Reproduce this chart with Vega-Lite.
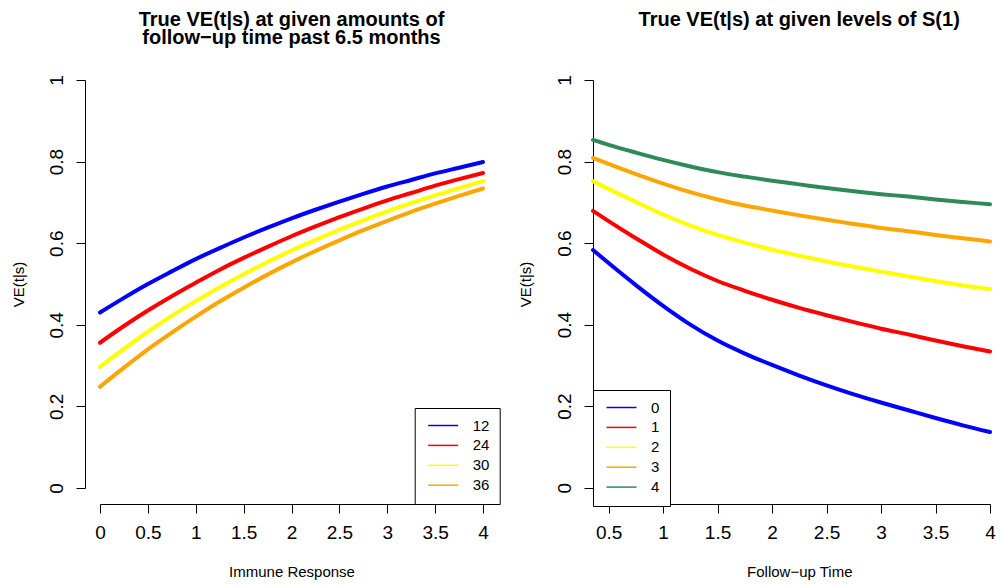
{
  "$schema": "https://vega.github.io/schema/vega-lite/v6.json",
  "background": "white",
  "padding": {"left": 11, "top": 9, "right": 5, "bottom": 5},
  "bounds": "flush",
  "spacing": 110,
  "resolve": {"scale": {"color": "independent", "x": "independent", "y": "independent"}, "legend": {"color": "independent"}},
  "config": {
    "font": "Liberation Sans",
    "view": {"stroke": null},
    "axis": {
      "grid": false,
      "domainColor": "black",
      "tickColor": "black",
      "labelColor": "black",
      "titleColor": "black",
      "labelFont": "Liberation Sans",
      "titleFont": "Liberation Sans",
      "labelFontSize": 19,
      "titleFontSize": 15,
      "titleFontWeight": "normal",
      "tickSize": 9,
      "labelFlush": false,
      "labelOverlap": false
    },
    "title": {"font": "Liberation Sans", "fontSize": 20, "fontWeight": "bold", "color": "black", "lineHeight": 18.5},
    "legend": {
      "strokeColor": "black",
      "fillColor": "white",
      "padding": 10,
      "symbolType": "M-0.8,0L5.2,0",
      "symbolSize": 100,
      "symbolStrokeWidth": 1.5,
      "labelFontSize": 15,
      "labelFont": "Liberation Sans",
      "labelColor": "black",
      "labelOffset": 33,
      "rowPadding": 3.9,
      "cornerRadius": 0
    }
  },
  "datasets": {
    "left": [
      {"s": 0, "ve": 0.430, "t": "12"}, {"s": 0.25, "ve": 0.466, "t": "12"}, {"s": 0.5, "ve": 0.500, "t": "12"}, {"s": 0.75, "ve": 0.531, "t": "12"},
      {"s": 1, "ve": 0.561, "t": "12"}, {"s": 1.25, "ve": 0.588, "t": "12"}, {"s": 1.5, "ve": 0.614, "t": "12"}, {"s": 1.75, "ve": 0.638, "t": "12"},
      {"s": 2, "ve": 0.661, "t": "12"}, {"s": 2.25, "ve": 0.682, "t": "12"}, {"s": 2.5, "ve": 0.702, "t": "12"}, {"s": 2.75, "ve": 0.721, "t": "12"},
      {"s": 3, "ve": 0.739, "t": "12"}, {"s": 3.25, "ve": 0.755, "t": "12"}, {"s": 3.5, "ve": 0.771, "t": "12"}, {"s": 3.75, "ve": 0.785, "t": "12"},
      {"s": 4, "ve": 0.799, "t": "12"},
      {"s": 0, "ve": 0.356, "t": "24"}, {"s": 0.25, "ve": 0.397, "t": "24"}, {"s": 0.5, "ve": 0.435, "t": "24"}, {"s": 0.75, "ve": 0.470, "t": "24"},
      {"s": 1, "ve": 0.503, "t": "24"}, {"s": 1.25, "ve": 0.535, "t": "24"}, {"s": 1.5, "ve": 0.564, "t": "24"}, {"s": 1.75, "ve": 0.591, "t": "24"},
      {"s": 2, "ve": 0.617, "t": "24"}, {"s": 2.25, "ve": 0.641, "t": "24"}, {"s": 2.5, "ve": 0.664, "t": "24"}, {"s": 2.75, "ve": 0.685, "t": "24"},
      {"s": 3, "ve": 0.705, "t": "24"}, {"s": 3.25, "ve": 0.723, "t": "24"}, {"s": 3.5, "ve": 0.741, "t": "24"}, {"s": 3.75, "ve": 0.757, "t": "24"},
      {"s": 4, "ve": 0.772, "t": "24"},
      {"s": 0, "ve": 0.297, "t": "30"}, {"s": 0.25, "ve": 0.341, "t": "30"}, {"s": 0.5, "ve": 0.383, "t": "30"}, {"s": 0.75, "ve": 0.422, "t": "30"},
      {"s": 1, "ve": 0.458, "t": "30"}, {"s": 1.25, "ve": 0.492, "t": "30"}, {"s": 1.5, "ve": 0.524, "t": "30"}, {"s": 1.75, "ve": 0.554, "t": "30"},
      {"s": 2, "ve": 0.582, "t": "30"}, {"s": 2.25, "ve": 0.608, "t": "30"}, {"s": 2.5, "ve": 0.633, "t": "30"}, {"s": 2.75, "ve": 0.656, "t": "30"},
      {"s": 3, "ve": 0.678, "t": "30"}, {"s": 3.25, "ve": 0.698, "t": "30"}, {"s": 3.5, "ve": 0.717, "t": "30"}, {"s": 3.75, "ve": 0.735, "t": "30"},
      {"s": 4, "ve": 0.752, "t": "30"},
      {"s": 0, "ve": 0.248, "t": "36"}, {"s": 0.25, "ve": 0.295, "t": "36"}, {"s": 0.5, "ve": 0.340, "t": "36"}, {"s": 0.75, "ve": 0.381, "t": "36"},
      {"s": 1, "ve": 0.420, "t": "36"}, {"s": 1.25, "ve": 0.457, "t": "36"}, {"s": 1.5, "ve": 0.491, "t": "36"}, {"s": 1.75, "ve": 0.523, "t": "36"},
      {"s": 2, "ve": 0.553, "t": "36"}, {"s": 2.25, "ve": 0.581, "t": "36"}, {"s": 2.5, "ve": 0.607, "t": "36"}, {"s": 2.75, "ve": 0.632, "t": "36"},
      {"s": 3, "ve": 0.655, "t": "36"}, {"s": 3.25, "ve": 0.677, "t": "36"}, {"s": 3.5, "ve": 0.697, "t": "36"}, {"s": 3.75, "ve": 0.716, "t": "36"},
      {"s": 4, "ve": 0.734, "t": "36"}
    ],
    "right": [
      {"time": 0.357, "ve": 0.583, "S": "0"}, {"time": 0.5, "ve": 0.551, "S": "0"}, {"time": 0.75, "ve": 0.497, "S": "0"}, {"time": 1, "ve": 0.446, "S": "0"},
      {"time": 1.25, "ve": 0.400, "S": "0"}, {"time": 1.5, "ve": 0.361, "S": "0"}, {"time": 1.75, "ve": 0.329, "S": "0"}, {"time": 2, "ve": 0.301, "S": "0"},
      {"time": 2.25, "ve": 0.275, "S": "0"}, {"time": 2.5, "ve": 0.251, "S": "0"}, {"time": 2.75, "ve": 0.229, "S": "0"}, {"time": 3, "ve": 0.209, "S": "0"},
      {"time": 3.25, "ve": 0.190, "S": "0"}, {"time": 3.5, "ve": 0.171, "S": "0"}, {"time": 3.75, "ve": 0.153, "S": "0"}, {"time": 4, "ve": 0.1365, "S": "0"},
      {"time": 0.357, "ve": 0.679, "S": "1"}, {"time": 0.5, "ve": 0.654, "S": "1"}, {"time": 0.75, "ve": 0.612, "S": "1"}, {"time": 1, "ve": 0.572, "S": "1"},
      {"time": 1.25, "ve": 0.537, "S": "1"}, {"time": 1.5, "ve": 0.507, "S": "1"}, {"time": 1.75, "ve": 0.483, "S": "1"}, {"time": 2, "ve": 0.461, "S": "1"},
      {"time": 2.25, "ve": 0.441, "S": "1"}, {"time": 2.5, "ve": 0.423, "S": "1"}, {"time": 2.75, "ve": 0.406, "S": "1"}, {"time": 3, "ve": 0.390, "S": "1"},
      {"time": 3.25, "ve": 0.376, "S": "1"}, {"time": 3.5, "ve": 0.361, "S": "1"}, {"time": 3.75, "ve": 0.347, "S": "1"}, {"time": 4, "ve": 0.334, "S": "1"},
      {"time": 0.357, "ve": 0.752, "S": "2"}, {"time": 0.5, "ve": 0.733, "S": "2"}, {"time": 0.75, "ve": 0.701, "S": "2"}, {"time": 1, "ve": 0.670, "S": "2"},
      {"time": 1.25, "ve": 0.643, "S": "2"}, {"time": 1.5, "ve": 0.620, "S": "2"}, {"time": 1.75, "ve": 0.601, "S": "2"}, {"time": 2, "ve": 0.584, "S": "2"},
      {"time": 2.25, "ve": 0.569, "S": "2"}, {"time": 2.5, "ve": 0.555, "S": "2"}, {"time": 2.75, "ve": 0.542, "S": "2"}, {"time": 3, "ve": 0.530, "S": "2"},
      {"time": 3.25, "ve": 0.518, "S": "2"}, {"time": 3.5, "ve": 0.507, "S": "2"}, {"time": 3.75, "ve": 0.496, "S": "2"}, {"time": 4, "ve": 0.487, "S": "2"},
      {"time": 0.357, "ve": 0.809, "S": "3"}, {"time": 0.5, "ve": 0.794, "S": "3"}, {"time": 0.75, "ve": 0.769, "S": "3"}, {"time": 1, "ve": 0.746, "S": "3"},
      {"time": 1.25, "ve": 0.725, "S": "3"}, {"time": 1.5, "ve": 0.707, "S": "3"}, {"time": 1.75, "ve": 0.692, "S": "3"}, {"time": 2, "ve": 0.680, "S": "3"},
      {"time": 2.25, "ve": 0.668, "S": "3"}, {"time": 2.5, "ve": 0.657, "S": "3"}, {"time": 2.75, "ve": 0.647, "S": "3"}, {"time": 3, "ve": 0.637, "S": "3"},
      {"time": 3.25, "ve": 0.629, "S": "3"}, {"time": 3.5, "ve": 0.620, "S": "3"}, {"time": 3.75, "ve": 0.612, "S": "3"}, {"time": 4, "ve": 0.604, "S": "3"},
      {"time": 0.357, "ve": 0.853, "S": "4"}, {"time": 0.5, "ve": 0.841, "S": "4"}, {"time": 0.75, "ve": 0.822, "S": "4"}, {"time": 1, "ve": 0.804, "S": "4"},
      {"time": 1.25, "ve": 0.788, "S": "4"}, {"time": 1.5, "ve": 0.774, "S": "4"}, {"time": 1.75, "ve": 0.763, "S": "4"}, {"time": 2, "ve": 0.753, "S": "4"},
      {"time": 2.25, "ve": 0.744, "S": "4"}, {"time": 2.5, "ve": 0.735, "S": "4"}, {"time": 2.75, "ve": 0.727, "S": "4"}, {"time": 3, "ve": 0.720, "S": "4"},
      {"time": 3.25, "ve": 0.714, "S": "4"}, {"time": 3.5, "ve": 0.707, "S": "4"}, {"time": 3.75, "ve": 0.701, "S": "4"}, {"time": 4, "ve": 0.695, "S": "4"}
    ]
  },
  "hconcat": [
    {
      "width": 383,
      "height": 408,
      "title": {"text": ["True VE(t|s) at given amounts of", "follow−up time past 6.5 months"], "anchor": "middle", "offset": 26.5},
      "data": {"name": "left"},
      "mark": {"type": "line", "strokeWidth": 4, "interpolate": "monotone", "strokeCap": "round", "clip": false},
      "encoding": {
        "x": {
          "field": "s", "type": "quantitative",
          "scale": {"domain": [0, 4], "nice": false, "zero": false},
          "axis": {"values": [0, 0.5, 1, 1.5, 2, 2.5, 3, 3.5, 4], "format": "~g", "offset": 16, "labelPadding": 10.5, "title": "Immune Response", "titlePadding": 21.5}
        },
        "y": {
          "field": "ve", "type": "quantitative",
          "scale": {"domain": [0, 1], "nice": false, "zero": false},
          "axis": {"values": [0, 0.2, 0.4, 0.6, 0.8, 1], "format": "~g", "offset": 15, "labelAngle": -90, "labelAlign": "center", "labelBaseline": "alphabetic", "labelPadding": 14,
                   "title": "VE(t|s)", "titleAngle": -90, "titleAlign": "center", "titleBaseline": "alphabetic", "titleX": -61.5, "titleY": 204}
        },
        "color": {
          "field": "t", "type": "nominal",
          "scale": {"domain": ["12", "24", "30", "36"], "range": ["#0000FF", "#FF0000", "#FFFF00", "#FFA500"]},
          "legend": {"title": null, "orient": "none", "legendX": 314.7, "legendY": 328}
        }
      }
    },
    {
      "width": 397,
      "height": 424,
      "title": {"text": "True VE(t|s) at given levels of S(1)", "anchor": "middle", "offset": 26.5, "dy": -18.5, "dx": 7.7},
      "data": {"name": "right"},
      "mark": {"type": "line", "strokeWidth": 4, "interpolate": "monotone", "strokeCap": "round", "clip": false},
      "encoding": {
        "x": {
          "field": "time", "type": "quantitative",
          "scale": {"domain": [0.357, 4], "nice": false, "zero": false},
          "axis": {"values": [0.5, 1, 1.5, 2, 2.5, 3, 3.5, 4], "format": "~g", "labelPadding": 10.5, "title": "Follow−up Time", "titlePadding": 21.5, "titleX": 206.3}
        },
        "y": {
          "field": "ve", "type": "quantitative",
          "scale": {"domain": [-0.04, 1], "nice": false, "zero": false},
          "axis": {"values": [0, 0.2, 0.4, 0.6, 0.8, 1], "format": "~g", "labelAngle": -90, "labelAlign": "center", "labelBaseline": "alphabetic", "labelPadding": 14,
                   "title": "VE(t|s)", "titleAngle": -90, "titleAlign": "center", "titleBaseline": "alphabetic", "titleX": -62.5, "titleY": 204}
        },
        "color": {
          "field": "S", "type": "nominal",
          "scale": {"domain": ["0", "1", "2", "3", "4"], "range": ["#0000FF", "#FF0000", "#FFFF00", "#FFA500", "#2E8B57"]},
          "legend": {"title": null, "orient": "none", "legendX": 0, "legendY": 310}
        }
      }
    }
  ]
}
